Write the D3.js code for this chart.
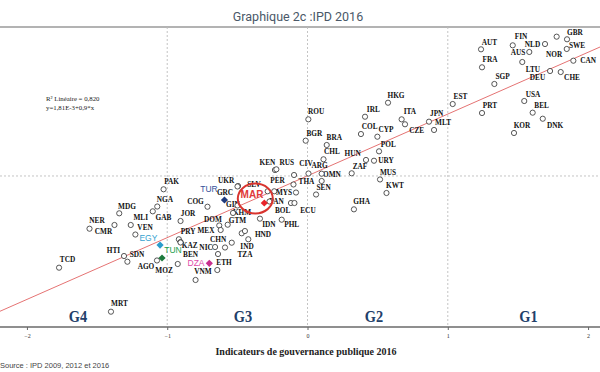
<!DOCTYPE html>
<html><head><meta charset="utf-8">
<script src="https://cdn.jsdelivr.net/npm/d3@7"></script>
<style>body{margin:0;background:#fff}</style>
</head><body><svg id="c" width="600" height="372"></svg>
<script>
// ---------- DATA ----------
const countries = ["AUT","FIN","GBR","SWE","NOR","NLD","AUS","CAN","FRA","LTU","DEU","CHE","SGP","EST","USA","PRT","BEL","DNK","KOR",
  "HKG","ROU","IRL","ITA","CZE","JPN","MLT","COL","CYP","BGR","BRA","POL","CHL","HUN","URY","ZAF","ARG","OMN","MUS","KWT","GHA","SEN",
  "KEN","RUS","CIV","PER","THA","MYS","SLV","LKA","UKR","GRC","PAN","BOL","ECU","GIN","KHM","IDN","PHL","GTM","DOM","HND","NPL","BGD",
  "MEX","PRY","KAZ","CHN","NIC","BEN","IND","TZA","ETH","VNM","AGO","MOZ","SDN","HTI","TCD","MRT","NER","CMR","MDG","MLI","VEN","NGA","GAB","PAK","COG","JOR"];
// Indicateurs de gouvernance publique 2016 (x)
const govX = [1.237,1.463,1.776,1.850,1.848,1.693,1.581,1.895,1.244,1.531,1.729,1.805,1.332,1.035,1.545,1.244,1.605,1.677,1.472,
  0.574,0.006,0.410,0.671,0.695,0.866,0.902,0.381,0.498,-0.013,0.137,0.510,0.114,0.417,0.474,0.315,0.007,0.101,0.517,0.563,0.331,0.061,
  -0.232,-0.222,-0.096,-0.100,0.101,-0.082,-0.284,-0.237,-0.495,-0.499,-0.271,-0.118,-0.093,-0.499,-0.531,-0.339,-0.184,-0.569,-0.629,-0.422,-0.469,-0.446,
  -0.619,-0.917,-0.905,-0.540,-0.659,-0.905,-0.588,-0.638,-0.643,-0.798,-1.073,-0.925,-1.284,-1.308,-1.771,-1.401,-1.554,-1.376,-1.342,-1.260,-1.227,-1.071,-1.103,-1.026,-0.713,-0.905];
// IPD 2016 (y)
const ipdY = [1.845,1.903,2.029,1.991,1.850,1.922,1.806,1.679,1.583,1.660,1.529,1.514,1.340,1.048,1.092,0.917,0.922,0.834,0.626,
  1.067,0.825,0.863,0.825,0.753,0.791,0.670,0.611,0.572,0.514,0.451,0.359,0.243,0.233,0.222,0.039,0.036,0.033,-0.051,-0.248,-0.486,-0.270,
  0.087,0.097,0.014,-0.124,-0.073,-0.241,-0.223,-0.223,-0.146,-0.153,-0.372,-0.394,-0.394,-0.430,-0.539,-0.622,-0.637,-0.710,-0.721,-0.922,-0.835,-0.802,
  -0.787,-0.922,-0.962,-0.972,-1.035,-0.969,-1.042,-1.137,-1.370,-1.515,-1.231,-1.282,-1.249,-1.166,-1.336,-1.977,-0.768,-0.714,-0.544,-0.714,-0.853,-0.445,-0.515,-0.194,-0.448,-0.656];
const unlabeled = ["LKA","NPL","BGD"];

const highlightCountries = ["MAR","TUR","EGY","TUN","DZA"];
const highlightX = [-0.308,-0.592,-1.051,-1.037,-0.700];
const highlightY = [-0.394,-0.350,-1.006,-1.195,-1.272];

const xTicks = [-2,-1,0,1,2];
const groupNames = ["G4","G3","G2","G1"];
const groupX = [-1.636,-0.460,0.474,1.575];
const regIntercept = 0.00181, regSlope = 0.9;
const fitText = ["R\u00b2 Lin\u00e9aire = 0,820", "y=1,81E-3+0,9*x"];

// ---------- LAYOUT / STYLE ----------
const labelOffsets = {
 AUT:[8.5,-7],FIN:[8.3,-9.3],GBR:[18.3,-4],SWE:[10,6.4],NOR:[-12.7,5.7],NLD:[-12.5,0.3],AUS:[-11.3,0.3],CAN:[14.7,0],FRA:[8,-7.3],
 LTU:[10.7,7],DEU:[-12.5,6.3],CHE:[11.3,5.7],SGP:[8.2,-7.3],EST:[7.8,-7.3],USA:[8.7,-7],PRT:[8,-7.3],BEL:[9,-7.4],DNK:[12.3,6.3],KOR:[8,-7],
 HKG:[8,-7.7],ROU:[7.7,-7.6],IRL:[8.3,-7.4],ITA:[8.3,-7.6],CZE:[11.7,6.7],JPN:[7.7,-7.7],MLT:[9,-7.7],COL:[8.7,-7.3],CYP:[8.7,-7.4],
 BGR:[8.6,-7.4],BRA:[7.6,-7.7],POL:[9.3,-7.3],CHL:[8.5,-7.6],HUN:[-13.3,-6],URY:[12,-0.7],ZAF:[8.3,-6.6],ARG:[11,-7.5],OMN:[10.3,0.3],
 MUS:[8,-7.2],KWT:[8.5,-7.3],GHA:[7.7,-7.6],SEN:[7.5,-7.2],KEN:[-7.5,-7],RUS:[10.4,-7.3],CIV:[12,-12],PER:[-16,-3.8],THA:[-15.2,0.3],
 MYS:[-12,-0.5],SLV:[-13.7,-6.3],UKR:[-12,-5],GRC:[-12.5,6.3],PAN:[7,-0.2],BOL:[-8.3,7.7],ECU:[13.5,7.7],GIN:[-4.5,-1],KHM:[9,0],
 IDN:[9,6],PHL:[10,5],GTM:[9.8,-4],DOM:[-6.3,-5.5],HND:[14.7,-4.3],MEX:[-14.7,0.5],PRY:[9.2,-7.8],KAZ:[9.2,3.9],CHN:[-13.7,-2.7],
 NIC:[-9,0.3],BEN:[10,11.8],IND:[22,-1.5],TZA:[27,0],ETH:[6.7,-7.5],VNM:[7.5,-8],AGO:[-11,6.5],MOZ:[-13.7,6.3],SDN:[9.7,-7.4],
 HTI:[-10.5,-6],TCD:[8.5,-7.7],MRT:[8.5,-7.7],NER:[7.5,-7.7],CMR:[-11,6.5],MDG:[7.7,-6.8],MLI:[10,-7.7],VEN:[9.7,-7.2],NGA:[7.7,-7.2],
 GAB:[10.6,5.7],PAK:[8,-7.6],COG:[-12,-5.2],JOR:[7.5,-7.5],
 MAR:[-12.3,-8.3],TUR:[-15.5,-10.5],EGY:[-11.7,-7.5],TUN:[11,-8],DZA:[-13.3,0]
};
const hlStyle = {
 MAR:{fill:"#e8232a",text:"#e03a3a",size:10,weight:"bold"},
 TUR:{fill:"#1f3a7c",text:"#34509a",size:8.5,weight:"normal"},
 EGY:{fill:"#2a9ccc",text:"#35a2cf",size:8.5,weight:"normal"},
 TUN:{fill:"#1c7a3c",text:"#22a04c",size:8.5,weight:"normal"},
 DZA:{fill:"#c8308e",text:"#e04aa8",size:8.5,weight:"normal"}
};

const W = 600, H = 372;
const svg = d3.select("#c");
const x = d3.scaleLinear().domain([-2.192, 2.085]).range([0, W]);
const y = d3.scaleLinear().domain([-2.2, 2.17]).range([327, 27]);

// title
svg.append("text").attr("x",298).attr("y",21).attr("text-anchor","middle")
  .attr("font-family","Roboto, 'Open Sans', sans-serif").attr("font-size",12.5).attr("fill","#4a5868")
  .text("Graphique 2c :IPD 2016");

// top frame line
svg.append("line").attr("x1",0).attr("x2",W).attr("y1",y.range()[1]).attr("y2",y.range()[1])
  .attr("stroke","#9a9a9a").attr("stroke-width",1.6);

// dashed reference lines
const g = svg.append("g");
g.selectAll("line.v").data([-1,0,1]).join("line")
  .attr("x1",d=>x(d)).attr("x2",d=>x(d)).attr("y1",y.range()[1]).attr("y2",y.range()[0])
  .attr("stroke","#bdbdbd").attr("stroke-width",0.9).attr("stroke-dasharray","2,2");
g.append("line").attr("x1",0).attr("x2",W).attr("y1",y(0)).attr("y2",y(0))
  .attr("stroke","#bdbdbd").attr("stroke-width",0.9).attr("stroke-dasharray","2,2");

// regression line
const xd = x.domain();
g.append("line").attr("x1",x(xd[0])).attr("y1",y(regIntercept+regSlope*xd[0]))
  .attr("x2",x(xd[1])).attr("y2",y(regIntercept+regSlope*xd[1]))
  .attr("stroke","#e57373").attr("stroke-width",1);

// fit text
svg.selectAll("text.fit").data(fitText).join("text")
  .attr("x",46).attr("y",(d,i)=>101+i*8.5)
  .attr("font-family","'Liberation Serif', serif").attr("font-size",6.8).attr("fill","#222")
  .text(d=>d);

// x axis
const axis = svg.append("g").attr("transform",`translate(0,${y.range()[0]})`)
  .call(d3.axisBottom(x).tickValues(xTicks).tickSize(3).tickFormat(d3.format("d")));
axis.select(".domain").remove();
axis.selectAll(".tick line").attr("stroke","#666");
axis.selectAll(".tick text").attr("font-size",6).attr("font-family","'Liberation Serif', serif").attr("fill","#333").attr("dy","0.9em");
svg.append("line").attr("x1",0).attr("x2",W).attr("y1",y.range()[0]).attr("y2",y.range()[0])
  .attr("stroke","#6a6a6a").attr("stroke-width",1.6);

// group labels
svg.selectAll("text.grp").data(groupNames).join("text")
  .attr("transform",(d,i)=>`translate(${x(groupX[i])},322) scale(0.9,1.1)`)
  .attr("text-anchor","middle")
  .attr("font-family","'Liberation Serif', serif").attr("font-weight","bold").attr("font-size",16)
  .attr("fill","#22406a").text(d=>d);

// axis title + source
svg.append("text").attr("x",306).attr("y",355).attr("text-anchor","middle")
  .attr("font-family","'Liberation Serif', serif").attr("font-weight","bold").attr("font-size",10).attr("fill","#222")
  .text("Indicateurs de gouvernance publique 2016");
svg.append("text").attr("x",0).attr("y",368)
  .attr("font-family","'Liberation Sans', Arial, sans-serif").attr("font-size",7.5).attr("fill","#444")
  .text("Source : IPD 2009, 2012 et 2016");

// country points
const pts = countries.map((c,i)=>({c, x:govX[i], y:ipdY[i]}));
const lab = svg.append("g");
lab.selectAll("text").data(pts.filter(p=>!unlabeled.includes(p.c))).join("text")
  .attr("x",p=>x(p.x)+labelOffsets[p.c][0]).attr("y",p=>y(p.y)+labelOffsets[p.c][1])
  .attr("text-anchor","middle").attr("dominant-baseline","central")
  .attr("font-family","'Liberation Serif', serif").attr("font-weight","bold").attr("font-size",7.3).attr("fill","#111")
  .text(p=>p.c);
svg.append("g").selectAll("circle").data(pts).join("circle")
  .attr("cx",p=>x(p.x)).attr("cy",p=>y(p.y)).attr("r",2.6)
  .attr("fill","#fff").attr("stroke","#3a3a3a").attr("stroke-width",0.85);

// highlighted countries (diamonds = rotated squares)
const hl = highlightCountries.map((c,i)=>({c, x:highlightX[i], y:highlightY[i]}));
svg.append("g").selectAll("path").data(hl).join("path")
  .attr("transform",p=>`translate(${x(p.x)},${y(p.y)}) rotate(45)`)
  .attr("d",d3.symbol().type(d3.symbolSquare).size(26))
  .attr("fill",p=>hlStyle[p.c].fill);
svg.append("g").selectAll("text").data(hl).join("text")
  .attr("x",p=>x(p.x)+labelOffsets[p.c][0]).attr("y",p=>y(p.y)+labelOffsets[p.c][1])
  .attr("text-anchor","middle").attr("dominant-baseline","central")
  .attr("font-family","'Liberation Sans', Arial, sans-serif")
  .attr("font-size",p=>hlStyle[p.c].size).attr("font-weight",p=>hlStyle[p.c].weight)
  .attr("fill",p=>hlStyle[p.c].text).text(p=>p.c);

// red ellipse around Morocco
const mar = hl[0];
svg.append("ellipse").attr("cx",x(mar.x)-9).attr("cy",y(mar.y)-4.5).attr("rx",17.5).attr("ry",15)
  .attr("fill","none").attr("stroke","#d8342f").attr("stroke-width",2);
</script></body></html>
